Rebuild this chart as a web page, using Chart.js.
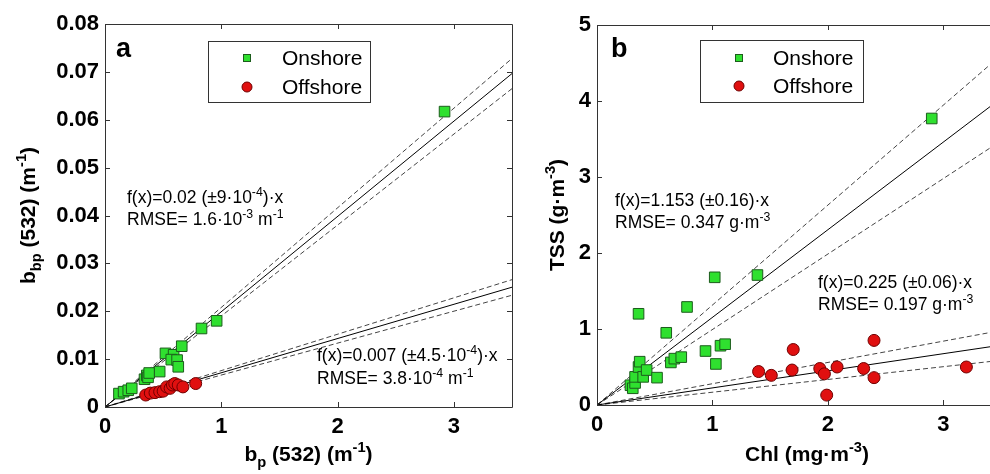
<!DOCTYPE html>
<html><head><meta charset="utf-8">
<script src="https://cdn.jsdelivr.net/npm/chart.js@4.4.1/dist/chart.umd.min.js"></script>
<style>
html,body{margin:0;padding:0;background:#fff;overflow:hidden}
#wrap{position:relative;width:990px;height:474px;background:#fff}
#pa{position:absolute;left:0;top:0;width:525px;height:474px}
#pb{position:absolute;left:525px;top:0;width:465px;height:474px;overflow:hidden}
canvas{display:block}
</style></head><body>
<div id="wrap">
<div id="pa"><canvas id="ca" width="525" height="474" style="width:525px;height:474px"></canvas></div>
<div id="pb"><canvas id="cb" width="490" height="474" style="width:490px;height:474px"></canvas></div>
</div>
<script>
// ---------- DATA ----------
const seriesNames = ['Onshore', 'Offshore'];

// Panel a: b_p(532) vs b_bp(532)
const onshoreA_x = [0.12, 0.16, 0.20, 0.23, 0.34, 0.36, 0.37, 0.38, 0.47, 0.52, 0.59, 0.57, 0.62, 0.63, 0.66, 0.83, 0.96, 2.92];
const onshoreA_y = [0.0028, 0.0032, 0.0035, 0.0039, 0.0058, 0.0066, 0.0062, 0.0071, 0.0074, 0.0112, 0.0109, 0.0099, 0.0098, 0.0084, 0.0127, 0.0164, 0.0180, 0.0617];
const offshoreA_x = [0.35, 0.39, 0.43, 0.47, 0.50, 0.53, 0.56, 0.58, 0.60, 0.63, 0.67, 0.78];
const offshoreA_y = [0.0025, 0.0029, 0.0030, 0.0032, 0.0033, 0.0042, 0.0039, 0.0046, 0.0049, 0.0046, 0.0042, 0.0049];
// fit slopes: [fit, upper bound, lower bound]
const fitA_on = [0.0199, 0.0208, 0.0190];
const fitA_off = [0.00715, 0.0076, 0.00667];

// Panel b: Chl vs TSS
const onshoreB_x = [0.29, 0.31, 0.33, 0.33, 0.36, 0.37, 0.36, 0.40, 0.43, 0.52, 0.60, 0.64, 0.67, 0.73, 0.78, 0.94, 1.02, 1.03, 1.07, 1.11, 1.39, 2.90];
const onshoreB_y = [0.26, 0.22, 0.29, 0.37, 0.50, 0.57, 1.20, 0.37, 0.46, 0.36, 0.95, 0.56, 0.61, 0.63, 1.29, 0.71, 1.68, 0.54, 0.78, 0.80, 1.71, 3.77];
const offshoreB_x = [1.40, 1.51, 1.70, 1.69, 1.93, 1.97, 1.99, 2.08, 2.31, 2.40, 2.40, 3.20];
const offshoreB_y = [0.44, 0.39, 0.73, 0.46, 0.48, 0.41, 0.13, 0.50, 0.48, 0.85, 0.36, 0.50];
const fitB_on = [1.153, 1.315, 0.993];
const fitB_off = [0.225, 0.28, 0.168];

// ticks
const xTicksA = [0, 1, 2, 3];
const xTickLabelsA = ['0', '1', '2', '3'];
const yTicksA = [0, 0.01, 0.02, 0.03, 0.04, 0.05, 0.06, 0.07, 0.08];
const yTickLabelsA = ['0', '0.01', '0.02', '0.03', '0.04', '0.05', '0.06', '0.07', '0.08'];
const xTicksB = [0, 1, 2, 3];
const xTickLabelsB = ['0', '1', '2', '3'];
const yTicksB = [0, 1, 2, 3, 4, 5];
const yTickLabelsB = ['0', '1', '2', '3', '4', '5'];

// ---------- HELPERS ----------
const FAM = '"Liberation Sans", Arial, Helvetica, sans-serif';
function segFont(size, weight, t) {
  const s = t === 0 ? size : size * 0.7;
  return weight + ' ' + s.toFixed(1) + 'px ' + FAM;
}
function richWidth(ctx, segs, size, weight) {
  let w = 0;
  for (const [txt, t] of segs) { ctx.font = segFont(size, weight, t); w += ctx.measureText(txt).width; }
  return w;
}
function drawRich(ctx, segs, x, y, size, weight, align) {
  let w = richWidth(ctx, segs, size, weight);
  let cx = align === 'center' ? x - w / 2 : x;
  ctx.textBaseline = 'alphabetic';
  ctx.textAlign = 'left';
  for (const [txt, t] of segs) {
    ctx.font = segFont(size, weight, t);
    const dy = t === 1 ? -size * 0.42 : (t === -1 ? size * 0.3 : 0);
    ctx.fillText(txt, cx, y + dy);
    cx += ctx.measureText(txt).width;
  }
}

function pts(xs, ys) { return xs.map((x, i) => ({ x: x, y: ys[i] })); }
function lineDs(slope, xmax, dashed) {
  return {
    type: 'scatter', showLine: true, data: [{ x: 0, y: 0 }, { x: xmax, y: slope * xmax }],
    borderColor: dashed ? '#444' : '#000', borderWidth: 1, borderDash: dashed ? [5, 3] : [],
    pointRadius: 0, pointHoverRadius: 0, order: 5
  };
}

function framePlugin(cfg) {
  return {
    id: 'frame' + cfg.tag,
    afterDraw(chart) {
      const ctx = chart.ctx, a = chart.chartArea;
      const xs = chart.scales.x, ys = chart.scales.y;
      ctx.save();
      ctx.strokeStyle = '#333'; ctx.lineWidth = 1;
      ctx.beginPath();
      ctx.rect(Math.round(a.left) + 0.5, Math.round(a.top) + 0.5, Math.round(a.right - a.left), Math.round(a.bottom - a.top));
      ctx.stroke();
      const tl = 5;
      ctx.beginPath();
      for (const v of cfg.xt) {
        const px = Math.round(xs.getPixelForValue(v)) + 0.5;
        ctx.moveTo(px, a.bottom); ctx.lineTo(px, a.bottom - tl);
        ctx.moveTo(px, a.top); ctx.lineTo(px, a.top + tl);
      }
      for (const v of cfg.yt) {
        const py = Math.round(ys.getPixelForValue(v)) + 0.5;
        ctx.moveTo(a.left, py); ctx.lineTo(a.left + tl, py);
        ctx.moveTo(a.right, py); ctx.lineTo(a.right - tl, py);
      }
      ctx.stroke();

      // panel letter
      ctx.fillStyle = '#000';
      ctx.font = 'bold 27px ' + FAM;
      ctx.textAlign = 'left'; ctx.textBaseline = 'alphabetic';
      ctx.fillText(cfg.letter, a.left + cfg.letterDx, 57);

      // legend
      const L = cfg.legend;
      ctx.fillStyle = '#fff';
      ctx.fillRect(L.x, L.y, L.w, L.h);
      ctx.strokeStyle = '#333';
      ctx.strokeRect(L.x + 0.5, L.y + 0.5, L.w, L.h);
      ctx.fillStyle = '#2fe02f'; ctx.strokeStyle = '#1c5c1c';
      ctx.fillRect(L.mx - 4, L.y1 - 4, 8, 8); ctx.strokeRect(L.mx - 4 + 0.5, L.y1 - 4 + 0.5, 7, 7);
      ctx.fillStyle = '#e01010'; ctx.strokeStyle = '#700000';
      ctx.beginPath(); ctx.arc(L.mx, L.y2, 5, 0, Math.PI * 2); ctx.fill(); ctx.stroke();
      ctx.fillStyle = '#000';
      ctx.font = '21px ' + FAM; ctx.textBaseline = 'middle';
      ctx.fillText(seriesNames[0], L.tx, L.y1 + 1);
      ctx.fillText(seriesNames[1], L.tx, L.y2 + 1);

      // annotations
      ctx.fillStyle = '#000';
      for (const an of cfg.notes) drawRich(ctx, an.segs, an.x, an.y, 17.5, 'normal', 'left');

      // axis titles
      drawRich(ctx, cfg.xTitle, cfg.xTitleX === null ? (a.left + a.right) / 2 : cfg.xTitleX, 461, 21, 'bold', 'center');
      ctx.save();
      ctx.translate(cfg.yTitleX, (a.top + a.bottom) / 2);
      ctx.rotate(-Math.PI / 2);
      drawRich(ctx, cfg.yTitle, 0, 8, 21, 'bold', 'center');
      ctx.restore();
      ctx.restore();
    }
  };
}

function makeChart(id, o) {
  const tickFont = { family: FAM, size: 22, weight: 'bold' };
  return new Chart(document.getElementById(id), {
    type: 'scatter',
    data: {
      datasets: [
        { label: seriesNames[0], data: pts(o.onX, o.onY), pointStyle: 'rect', pointRadius: 7.5,
          backgroundColor: '#2fe02f', borderColor: '#1c5c1c', borderWidth: 1, order: 1 },
        { label: seriesNames[1], data: pts(o.offX, o.offY), pointStyle: 'circle', pointRadius: 6,
          backgroundColor: '#e01010', borderColor: '#700000', borderWidth: 1, order: 1 },
        lineDs(o.fitOn[0], o.xmax, false), lineDs(o.fitOn[1], o.xmax, true), lineDs(o.fitOn[2], o.xmax, true),
        lineDs(o.fitOff[0], o.xmax, false), lineDs(o.fitOff[1], o.xmax, true), lineDs(o.fitOff[2], o.xmax, true)
      ]
    },
    options: {
      responsive: false, animation: false, devicePixelRatio: 1,
      layout: { padding: { top: o.padTop, right: o.padRight, left: 0, bottom: 0 } },
      plugins: { legend: { display: false }, tooltip: { enabled: false } },
      scales: {
        x: {
          type: 'linear', min: 0, max: o.xmax,
          grid: { display: false, drawTicks: false }, border: { display: false },
          afterBuildTicks: s => { s.ticks = o.xt.map(v => ({ value: v })); },
          afterFit: s => { s.height = o.xAxisH; },
          ticks: { font: tickFont, color: '#000', padding: 7, maxRotation: 0, autoSkip: false,
                   callback: (v, i) => o.xtl[i] }
        },
        y: {
          type: 'linear', min: 0, max: o.ymax,
          grid: { display: false, drawTicks: false }, border: { display: false },
          afterBuildTicks: s => { s.ticks = o.yt.map(v => ({ value: v })); },
          afterFit: s => { s.width = o.yAxisW; },
          ticks: { font: tickFont, color: '#000', padding: 6, autoSkip: false,
                   callback: (v, i) => o.ytl[i] }
        }
      }
    },
    plugins: [framePlugin(o.frame)]
  });
}

makeChart('ca', {
  onX: onshoreA_x, onY: onshoreA_y, offX: offshoreA_x, offY: offshoreA_y,
  fitOn: fitA_on, fitOff: fitA_off, xmax: 3.5, ymax: 0.08,
  xt: xTicksA, xtl: xTickLabelsA, yt: yTicksA, ytl: yTickLabelsA,
  padTop: 24, padRight: 13, xAxisH: 67, yAxisW: 105,
  frame: {
    tag: 'a', letter: 'a', letterDx: 11, xt: xTicksA, yt: yTicksA,
    legend: { x: 208, y: 41, w: 162, h: 61, mx: 247, y1: 58, y2: 87, tx: 282 },
    notes: [
      { x: 127, y: 203, segs: [['f(x)=0.02 (\u00b19\u00b710', 0], ['-4', 1], [')\u00b7x', 0]] },
      { x: 127, y: 225, segs: [['RMSE= 1.6\u00b710', 0], ['-3', 1], [' m', 0], ['-1', 1]] },
      { x: 317, y: 361, segs: [['f(x)=0.007 (\u00b14.5\u00b710', 0], ['-4', 1], [')\u00b7x', 0]] },
      { x: 317, y: 384, segs: [['RMSE= 3.8\u00b710', 0], ['-4', 1], [' m', 0], ['-1', 1]] }
    ],
    xTitle: [['b', 0], ['p', -1], [' (532) (m', 0], ['-1', 1], [')', 0]], xTitleX: null,
    yTitle: [['b', 0], ['bp', -1], [' (532) (m', 0], ['-1', 1], [')', 0]], yTitleX: 27
  }
});

makeChart('cb', {
  onX: onshoreB_x, onY: onshoreB_y, offX: offshoreB_x, offY: offshoreB_y,
  fitOn: fitB_on, fitOff: fitB_off, xmax: 3.5, ymax: 5,
  xt: xTicksB, xtl: xTickLabelsB, yt: yTicksB, ytl: yTickLabelsB,
  padTop: 25, padRight: 14, xAxisH: 69, yAxisW: 72,
  frame: {
    tag: 'b', letter: 'b', letterDx: 14, xt: xTicksB, yt: yTicksB,
    legend: { x: 175, y: 40, w: 163, h: 62, mx: 214, y1: 58, y2: 86, tx: 248 },
    notes: [
      { x: 90, y: 206, segs: [['f(x)=1.153 (\u00b10.16)\u00b7x', 0]] },
      { x: 90, y: 228, segs: [['RMSE= 0.347 g\u00b7m', 0], ['-3', 1]] },
      { x: 293, y: 288, segs: [['f(x)=0.225 (\u00b10.06)\u00b7x', 0]] },
      { x: 293, y: 310, segs: [['RMSE= 0.197 g\u00b7m', 0], ['-3', 1]] }
    ],
    xTitle: [['Chl (mg\u00b7m', 0], ['-3', 1], [')', 0]], xTitleX: 282,
    yTitle: [['TSS (g\u00b7m', 0], ['-3', 1], [')', 0]], yTitleX: 31
  }
});
</script>
</body></html>
